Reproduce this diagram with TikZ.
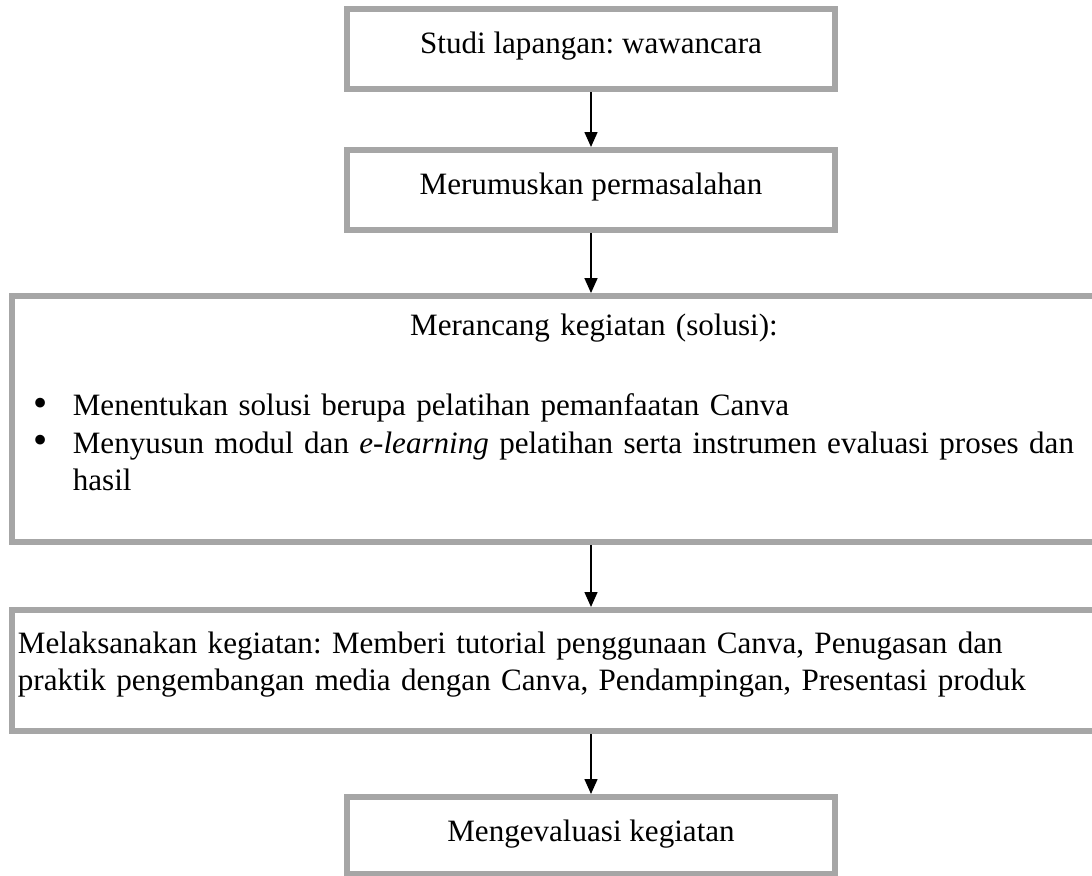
\documentclass[tikz,border=0pt]{standalone}
\usepackage{fontspec}
\setmainfont{Liberation Serif}
\usetikzlibrary{arrows.meta}
\definecolor{boxgray}{HTML}{A6A6A6}
\newcommand{\bul}{\hspace*{10.8pt}\makebox[28.3pt][l]{\smash{\raisebox{-0.5pt}{\scalebox{1.3}{\textbullet}}}}}

\begin{document}
\begin{tikzpicture}[x=0.025cm, y=-0.025cm,
  font=\fontsize{22.1pt}{26.8pt}\selectfont\frenchspacing,
  box/.style={draw=boxgray, line width=4.27pt, inner xsep=0pt, inner ysep=0pt, anchor=base},
  smallbox/.style={box, minimum width=347.1pt, align=center, text height=31.3pt, text depth=25.6pt},
  widebox/.style={box, inner xsep=4.27pt, text width=819.4pt, align=left},
  arr/.style={line width=1.06pt, -{Triangle[length=10.6pt, width=9.2pt]}}]
  \useasboundingbox (0,0) rectangle (1092,875);
  \clip (0,0) rectangle (1092,875);
  \path (591,53) node[smallbox](studi) {Studi lapangan: wawancara}
        ++(0,141) node[smallbox](rumus) {Merumuskan permasalahan}
        ++(3,141) node[widebox, text height=27.7pt, text depth=147.2pt](rancang)
          {\makebox[\linewidth]{Merancang kegiatan (solusi):}\\[30.4pt]
           \bul Menentukan solusi berupa pelatihan pemanfaatan Canva\\
           \bul Menyusun modul dan \emph{e-learning} pelatihan serta instrumen evaluasi proses dan\\
           \hspace*{39.1pt}hasil}
        ++(0,318) node[widebox, text height=30.6pt, text depth=55.5pt](laksana)
          {Melaksanakan kegiatan: Memberi tutorial penggunaan Canva, Penugasan dan\\
           praktik pengembangan media dengan Canva, Pendampingan, Presentasi produk}
        ++(-3,188) node[smallbox, text depth=23.5pt](evaluasi) {Mengevaluasi kegiatan};
  \draw[arr] (studi.south) -- (rumus.north);
  \draw[arr] (rumus.south) -- (rumus.south |- rancang.north);
  \draw[arr] (rumus.south |- rancang.south) -- (rumus.south |- laksana.north);
  \draw[arr] (laksana.south -| evaluasi.north) -- (evaluasi.north);
\end{tikzpicture}
\end{document}
